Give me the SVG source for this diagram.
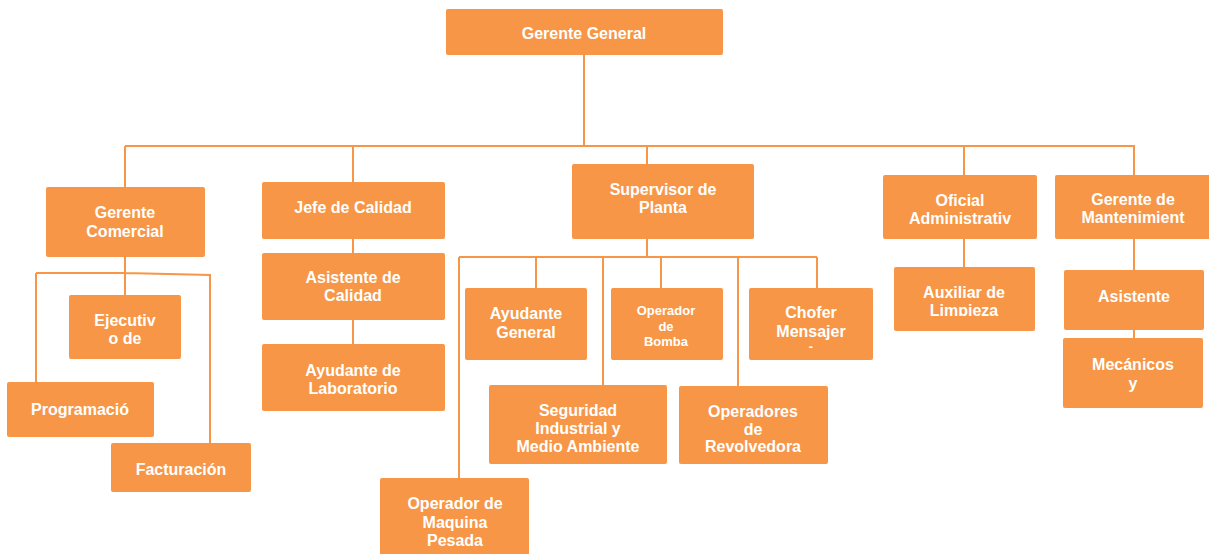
<svg xmlns="http://www.w3.org/2000/svg" width="1209" height="554" viewBox="0 0 1209 554">
<style>
.b{fill:#F79646;}
.t{fill:#fff;font-family:"Liberation Sans",Arial,sans-serif;font-weight:bold;font-size:16px;text-anchor:middle;}
.s{font-size:13px;}
.c{stroke:#F79646;stroke-width:2;fill:none;}
</style>
<defs>
<clipPath id="cOf"><rect x="0" y="0" width="1209" height="224"/></clipPath>
<clipPath id="cAux"><rect x="0" y="0" width="1209" height="316"/></clipPath>
<clipPath id="cRow"><rect x="0" y="0" width="1209" height="452"/></clipPath>
<clipPath id="cMaq"><rect x="0" y="0" width="1209" height="546"/></clipPath>
<clipPath id="cCh"><rect x="0" y="0" width="1209" height="349"/></clipPath>
</defs>
<rect width="1209" height="554" fill="#fff"/>
<g id="connectors" class="c">
<path d="M584,55V145M125,146H1134M125,146V187M353,146V182M647,146V164M964,146V175M1134,145V175"/>
<path d="M125,257V295M36,273H125L210,275V443M36,273V382"/>
<path d="M353,239V253M353,320V344"/>
<path d="M647,239V257M459,257H817M459,257V478M536,257V288M603,257V385M661,257V288M738,257V386M817,257V288"/>
<path d="M964,239V267M1134,239V270M1134,330V338"/>
</g>
<g id="gerente-general"><rect class="b" x="446" y="9" width="277" height="46" rx="2"/><text class="t" x="584" y="39">Gerente General</text></g>
<g id="gerente-comercial"><rect class="b" x="46" y="187" width="159" height="70" rx="2"/><text class="t" x="125" y="218">Gerente</text><text class="t" x="125" y="237">Comercial</text></g>
<g id="ejecutivo"><rect class="b" x="69" y="295" width="112" height="64" rx="2"/><text class="t" x="125" y="326">Ejecutiv</text><text class="t" x="125" y="344">o de</text></g>
<g id="programacion"><rect class="b" x="7" y="382" width="147" height="55" rx="2"/><text class="t" x="80" y="415">Programació</text></g>
<g id="facturacion"><rect class="b" x="111" y="443" width="140" height="49" rx="2"/><text class="t" x="181" y="475">Facturación</text></g>
<g id="jefe-calidad"><rect class="b" x="262" y="182" width="183" height="57" rx="2"/><text class="t" x="353" y="213">Jefe de Calidad</text></g>
<g id="asistente-calidad"><rect class="b" x="262" y="253" width="183" height="67" rx="2"/><text class="t" x="353" y="283">Asistente de</text><text class="t" x="353" y="301">Calidad</text></g>
<g id="ayudante-laboratorio"><rect class="b" x="262" y="344" width="183" height="67" rx="2"/><text class="t" x="353" y="376">Ayudante de</text><text class="t" x="353" y="394">Laboratorio</text></g>
<g id="supervisor-planta"><rect class="b" x="572" y="164" width="182" height="75" rx="2"/><text class="t" x="663" y="195">Supervisor de</text><text class="t" x="663" y="213">Planta</text></g>
<g id="ayudante-general"><rect class="b" x="465" y="288" width="122" height="72" rx="2"/><text class="t" x="526" y="319">Ayudante</text><text class="t" x="526" y="338">General</text></g>
<g id="operador-bomba"><rect class="b" x="611" y="288" width="112" height="72" rx="2"/><text class="t s" x="666" y="315">Operador</text><text class="t s" x="666" y="331">de</text><text class="t s" x="666" y="346">Bomba</text></g>
<g id="chofer"><rect class="b" x="749" y="288" width="124" height="72" rx="2"/><text class="t" x="811" y="318">Chofer</text><text class="t" x="811" y="337">Mensajer</text><text class="t s" x="811" y="351">-</text></g>
<g id="seguridad"><rect class="b" x="489" y="385" width="178" height="79" rx="2"/><g clip-path="url(#cRow)"><text class="t" x="578" y="416">Seguridad</text><text class="t" x="578" y="434">Industrial y</text><text class="t" x="578" y="452">Medio Ambiente</text></g></g>
<g id="operadores-revolvedora"><rect class="b" x="679" y="386" width="149" height="78" rx="2"/><g clip-path="url(#cRow)"><text class="t" x="753" y="417">Operadores</text><text class="t" x="753" y="435">de</text><text class="t" x="753" y="452">Revolvedora</text></g></g>
<g id="operador-maquina"><rect class="b" x="380" y="478" width="149" height="80" rx="2"/><g clip-path="url(#cMaq)"><text class="t" x="455" y="509">Operador de</text><text class="t" x="455" y="528">Maquina</text><text class="t" x="455" y="546">Pesada</text></g></g>
<g id="oficial-administrativo"><rect class="b" x="883" y="175" width="154" height="64" rx="2"/><g clip-path="url(#cOf)"><text class="t" x="960" y="206">Oficial</text><text class="t" x="960" y="224">Administrativ</text></g></g>
<g id="auxiliar-limpieza"><rect class="b" x="894" y="267" width="141" height="64" rx="2"/><g clip-path="url(#cAux)"><text class="t" x="964" y="298">Auxiliar de</text><text class="t" x="964" y="316">Limpieza</text></g></g>
<g id="gerente-mantenimiento"><rect class="b" x="1055" y="175" width="158" height="64" rx="2"/><text class="t" x="1133" y="205">Gerente de</text><text class="t" x="1133" y="223">Mantenimient</text></g>
<g id="asistente"><rect class="b" x="1064" y="270" width="140" height="60" rx="2"/><text class="t" x="1134" y="302">Asistente</text></g>
<g id="mecanicos"><rect class="b" x="1063" y="338" width="140" height="70" rx="2"/><text class="t" x="1133" y="370">Mecánicos</text><text class="t" x="1133" y="389">y</text></g>
</svg>
